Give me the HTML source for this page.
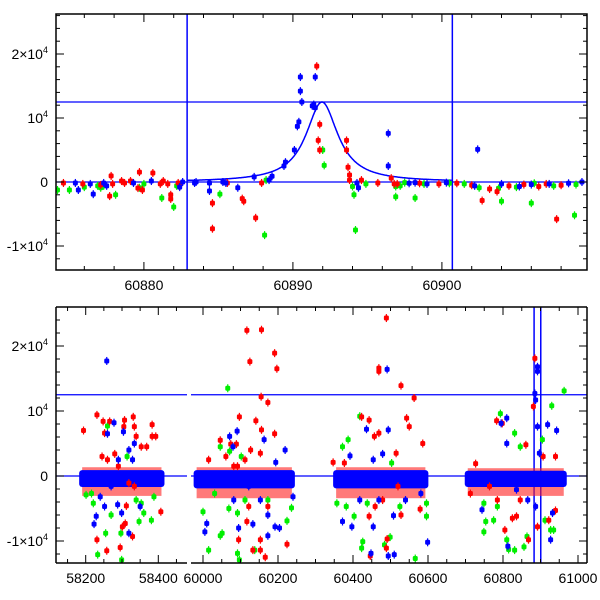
<!DOCTYPE html>
<html><head><meta charset="utf-8"><style>
html,body{margin:0;padding:0;background:#fff;}
svg{display:block;font-family:"Liberation Sans",sans-serif;}
</style></head><body>
<svg id="chart" width="600" height="600" viewBox="0 0 600 600" xmlns="http://www.w3.org/2000/svg">
<g id="top"></g>
<g id="bot"></g>
</svg>
<script>
// ---- top panel data (MJD, flux) ----
const topRedT=[60874.6,60875.9,60877.1,60877.9,60877.8,60877.7,60878.5,60878.7,60879.1,60879.7,60879.6,60879.9,60880.6,60881.1,60881.3,60881.6,60881.8,60881.8,60882.3,60882.4,60884.6,60884.6,60885.6,60886.6,60886.7,60887.5,60887.9,60891.6,60891.8,60891.7,60891.8,60893.6,60893.6,60893.7,60893.8,60893.8,60894.6,60895.7,60896.6,60896.8,60897.0,60898.5,60899.8,60901.0,60902.0,60902.7,60903.2,60903.7,60904.5,60905.5,60906.5,60907.0,60907.7,60908.0];
const topRedV=[-150,-300,-450,-300,950,-2200,150,-150,150,1550,-950,-1250,1400,-300,150,-300,-2000,-2650,-150,-600,-3300,-7300,-150,-2600,-3000,-5600,-150,18100,9000,6500,5000,6500,5000,2300,1100,300,300,-150,600,-300,-300,-200,-300,-200,-500,-2900,-1100,-1500,-600,-400,-700,-300,-5800,-500];
const topGreenT=[60874.2,60875.0,60876.0,60876.9,60877.1,60877.3,60878.1,60879.7,60880.0,60881.2,60882.0,60882.2,60885.1,60888.1,60888.2,60892.0,60892.1,60894.0,60894.1,60894.2,60894.9,60896.9,60896.9,60897.2,60897.5,60898.2,60898.8,60900.5,60901.5,60902.5,60903.8,60904.0,60905.0,60906.0,60906.2,60907.5,60908.9,60909.0];
const topGreenV=[-1250,-1250,-800,-600,-900,-600,-2000,-900,-300,-2500,-3900,-600,-1900,-8300,300,5000,2600,-700,-2000,-7500,-300,-700,-2300,-600,-100,-2500,-300,-200,-300,-900,-1000,-3000,-800,-3300,-200,-600,-5200,-400];
const topBlueT=[60875.4,60875.6,60876.4,60876.6,60877.3,60877.5,60879.3,60880.5,60882.4,60882.6,60883.4,60883.5,60884.4,60884.4,60885.3,60885.5,60886.3,60887.4,60888.4,60888.6,60889.4,60889.5,60890.1,60890.3,60890.4,60890.5,60890.5,60890.6,60891.3,60891.4,60891.5,60891.5,60894.3,60894.4,60896.4,60896.4,60897.8,60898.2,60899.0,60900.3,60902.2,60902.4,60904.0,60905.2,60906.0,60907.2,60908.5,60909.4];
const topBlueV=[-150,-1250,-300,-1900,-150,-600,-150,150,-800,0,-150,0,-1400,-150,0,-150,-900,800,300,900,2500,3100,5000,8700,9400,16400,14200,12500,11900,12100,16400,11600,-150,-900,7600,2500,-200,-100,-300,-100,-600,5100,-300,-700,-400,-300,-200,0];
// ---- bottom panel data ----
const botRedT=[58194,58231,58248,58266,58252,58280,58307,58305,58331,58334,58339,58383,58393,58368,58353,58231,58258,58295,58301,58309,58329,58312,58383,58407,58319,58334,58245,58260,58290,
60117,60156,60125,60191,60197,60173,60155,60097,60141,60156,60191,60046,60074,60089,60127,60153,60112,60015,60092,60122,60117,60153,60133,60166,60153,60095,60224,60173,60061,60082,
60489,60469,60469,60528,60563,60543,60550,60423,60443,60469,60586,60515,60457,60347,60377,60491,60446,60489,60528,60579,60443,60459,60479,60520,
60783,60798,60727,60713,60861,60885,60881,60907,60940,60940,60805,60836,60825,60868,60892,60846,60785,60764,60922];
const botRedV=[7000,9400,8400,8400,6600,3400,8600,7600,9100,7600,6100,7900,6100,4500,4500,-9800,-11500,-11000,-7800,-7300,-9300,-4600,6100,-5500,-1100,-1600,3000,2500,1500,
22400,22500,17600,18900,16500,11300,12200,9100,8500,7100,6500,5500,4900,4900,4000,3500,2500,2500,1500,-4700,-7000,-9800,-11400,-12500,-11400,-9800,-10500,-4700,3000,1500,
24300,16600,16100,13900,12000,8900,7600,9100,8600,6600,5000,3500,6100,2100,2000,-9700,-12300,-11100,-6000,-5100,-6200,-4700,-3700,-1600,
8500,8100,1900,-2700,4800,18100,10700,3000,3000,-5300,-8300,-6200,-6500,-9800,-7800,-3700,-3700,-1600,-6800];
const botGreenT=[58260,58201,58221,58255,58233,58270,58299,58297,58347,58353,58360,58381,58388,58314,58339,58216,
60066,60046,60071,60102,60092,60069,60051,60015,60046,60092,60097,60138,60224,60236,60000,60112,60031,60173,
60418,60387,60372,60503,60426,60423,60484,60499,60566,60382,60403,60596,60596,60438,60525,60357,
60793,60831,60846,60905,60930,60963,60749,60754,60775,60810,60815,60831,60856,60864,60912,60927,60935,60749,60785];
const botGreenV=[7700,-2900,-4200,-8800,-12100,-6000,-12900,-8800,-7000,-4200,-5700,-6800,-3200,3000,-3700,-2700,
13500,4500,3800,3000,-5700,-5000,-8800,-11400,-9200,-11900,-12900,-11400,-6900,-4900,-5500,-3700,-2700,-3700,
9200,5600,4500,2000,-10100,-11100,-10600,-9400,-12700,-4700,-6200,-6200,-4200,-4200,-4700,-4200,
9600,6600,4500,5600,10800,13100,-8600,-7000,-6800,-9800,-11300,-11400,-10900,-9300,-6800,-8300,-8300,-4200,-4700];
const botBlueT=[58258,58278,58260,58304,58319,58334,58223,58229,58252,58288,58350,58319,58299,58270,58240,58290,58329,
60091,60071,60080,60163,60219,60194,60005,60010,60095,60133,60173,60192,60204,60173,60240,60082,60122,60153,
60491,60494,60436,60392,60454,60479,60454,60448,60494,60510,60508,60599,60372,60397,60540,60581,60418,60469,
60810,60795,60892,60892,60885,60887,60892,60919,60943,60810,60744,60813,60927,60932,60887,60866,60836,60897];
const botBlueV=[17700,8200,6500,6800,4000,5000,-7400,-6200,-4700,-4400,-4700,-8800,-5700,-1600,-3200,2500,2500,
6900,6100,4500,5600,4000,2100,-8600,-7300,-8000,-7400,-6000,-7800,-8000,-9200,-3200,-3700,-1600,-3700,
16400,7100,7200,3100,2500,3400,-7800,-11900,-12300,-12100,-6100,-10200,-7000,-7800,-3700,-2700,-3700,-3700,
8900,8100,16800,16100,12700,11700,7600,7900,7000,5000,-5200,-10800,-9800,-5700,-4700,-3700,-2100,3500];
// dense core of each observing season
const seasonStart=[58182,59975,60347,60698];
const seasonEnd=[58417,60245,60601,60970];
const coreTop=[900,900,900,800];
const coreBottom=[-1700,-1900,-1900,-1700];
const modelPeak=12500, modelT0=60891.95, modelHW=1.3;
const vLines=[60882.9,60900.7];
const hLines=[0,12500];

const NS='http://www.w3.org/2000/svg';
function mk(tag,attrs,parent){const e=document.createElementNS(NS,tag);for(const k in attrs)e.setAttribute(k,attrs[k]);parent.appendChild(e);return e;}
const colors={red:'#ff0000',green:'#00ee00',blue:'#0000ff'};

// axis functions
const topX=t=>56+(t-60874.1)*14.9;
const topY=v=>182-v*0.0064;
const botY=v=>476-v*0.0065;
function botX(t){ if(t<59000) return 85.7+(t-58200)*0.363; return 203+(t-60000)*0.375; }

function point(g,x,y,c,name){
  const eb=mk('line',{x1:x,x2:x,y1:y-4,y2:y+4,stroke:c,'stroke-width':1.2},g);
  
  
  const r=mk('rect',{x:x-2.5,y:y-2.5,width:5,height:5,rx:1.5,fill:c},g);
  
  
}
function yTicks(g,y,x0,x1,yTopV,yBotV,labels){
  for(let v=-14000;v<=26000;v+=2000){
    const yy=y(v); if(yy<y(yTopV)-0.1||yy>y(yBotV)+0.1) continue;
    const L=(v%10000===0)?8:4;
    for(const [a,b] of [[x0,x0+L],[x1,x1-L]]){const t=mk('line',{x1:a,x2:b,y1:yy,y2:yy,stroke:'#000','stroke-width':1},g);
      
      }
  }
  for(const [v,html] of labels){
    const t=mk('text',{x:48,y:y(v)+5,'text-anchor':'end','font-size':14,fill:'#000'},g);
    
    
    t.innerHTML=html;
  }
}
const yLabels=[[20000,'2×10<tspan dy="-6" font-size="9">4</tspan>'],[10000,'10<tspan dy="-6" font-size="9">4</tspan>'],[0,'0'],[-10000,'-1×10<tspan dy="-6" font-size="9">4</tspan>']];

// ---------- TOP PANEL ----------
(function(){
  const g=document.getElementById('top');
  const cp=mk('clipPath',{id:'cpTop'},g); mk('rect',{x:56,y:14,width:531,height:256},cp);
  const d=mk('g',{'clip-path':'url(#cpTop)'},g);
  
  
  for(const v of hLines){const l=mk('line',{x1:56,x2:587,y1:topY(v),y2:topY(v),stroke:'#0000ff','stroke-width':1.2},d);
    
    }
  for(const t of vLines){const l=mk('line',{x1:topX(t),x2:topX(t),y1:14,y2:270,stroke:'#0000ff','stroke-width':1.5},d);
    
    }
  let p='';
  for(let t=vLines[0];t<=vLines[1];t+=0.05){const v=modelPeak/(1+((t-modelT0)/modelHW)**2);p+=(p?'L':'M')+topX(t).toFixed(1)+','+topY(v).toFixed(1);}
  const m=mk('path',{d:p,fill:'none',stroke:'#0000ff','stroke-width':1.5},d);
  
  
  const series=[[topGreenT,topGreenV,'green'],[topRedT,topRedV,'red'],[topBlueT,topBlueV,'blue']];
  for(const [T,V,c] of series) for(let i=0;i<T.length;i++) point(d,topX(T[i]),topY(V[i]),colors[c],c+'-point');
  const f=mk('rect',{x:56,y:14,width:531,height:256,fill:'none',stroke:'#000','stroke-width':1.5},g);
  
  
  yTicks(g,topY,56,587,26250,-13750,yLabels);
  for(let t=60876;t<=60908;t+=2){
    const x=topX(t); const L=(t%10===0)?8:4;
    for(const [a,b] of [[270,270-L],[14,14+L]]){const k=mk('line',{x1:x,x2:x,y1:a,y2:b,stroke:'#000','stroke-width':1},g);
      
      }
    if(t%10===0){const tx=mk('text',{x:x,y:290,'text-anchor':'middle','font-size':14},g);
      
      
      tx.textContent=t;}
  }
})();

// ---------- BOTTOM PANEL ----------
(function(){
  const g=document.getElementById('bot');
  const segs=[[56,187],[191,587]];
  segs.forEach((s,i)=>{const cp=mk('clipPath',{id:'cpB'+i},g); mk('rect',{x:s[0],y:307,width:s[1]-s[0],height:256},cp);});
  const layers=segs.map((s,i)=>{const d=mk('g',{'clip-path':'url(#cpB'+i+')'},g);
    
    return d;});
  const layerFor=t=>t<59000?layers[0]:layers[1];
  for(const L of layers){
    for(const v of hLines){const l=mk('line',{x1:0,x2:600,y1:botY(v),y2:botY(v),stroke:'#0000ff','stroke-width':1.2},L);
      
      }
  }
  for(const t of vLines){const l=mk('line',{x1:botX(t),x2:botX(t),y1:307,y2:563,stroke:'#0000ff','stroke-width':1.5},layers[1]);
    
    }
  for(let i=0;i<seasonStart.length;i++){
    const L=layerFor(seasonStart[i]);
    const x0=botX(seasonStart[i]),x1=botX(seasonEnd[i]);
    const rr=mk('rect',{x:x0+3,y:botY(coreTop[i]*1.5),width:x1-x0-6,height:botY(coreBottom[i]*1.8)-botY(coreTop[i]*1.5),fill:'#ff2020',opacity:0.6},L);
    
    
    const r=mk('rect',{x:x0,y:botY(coreTop[i]),width:x1-x0,height:botY(coreBottom[i])-botY(coreTop[i]),rx:3,fill:'#0000ff'},L);
    
    
  }
  const series=[[botGreenT,botGreenV,'green'],[botRedT,botRedV,'red'],[botBlueT,botBlueV,'blue']];
  for(const [T,V,c] of series) for(let i=0;i<T.length;i++) point(layerFor(T[i]),botX(T[i]),botY(V[i]),colors[c],c+'-point');
  // frame: continuous top border, broken bottom axis, outer sides only
  const fr=[[56,307,587,307],[56,307,56,563],[587,307,587,563],[56,563,187,563],[191,563,587,563]];
  for(const [a,b,c,d2] of fr){const f=mk('line',{x1:a,y1:b,x2:c,y2:d2,stroke:'#000','stroke-width':1.5},g);
    
    }
  yTicks(g,botY,56,587,26000,-13400,yLabels);
  const ticks1=[58150,58200,58250,58300,58350,58400,58450];
  const ticks2=[];for(let t=60050;t<=61000;t+=50)ticks2.push(t);ticks2.unshift(60000);
  for(const t of ticks1.concat(ticks2)){
    const x=botX(t); const L=(t%200===0)?8:4;
    for(const [a,b] of [[563,563-L],[307,307+L]]){const k=mk('line',{x1:x,x2:x,y1:a,y2:b,stroke:'#000','stroke-width':1},g);
      
      }
    if(t%200===0){const tx=mk('text',{x:x,y:583,'text-anchor':'middle','font-size':14},g);
      
      
      tx.textContent=t;}
  }
})();
</script>
</body></html>
